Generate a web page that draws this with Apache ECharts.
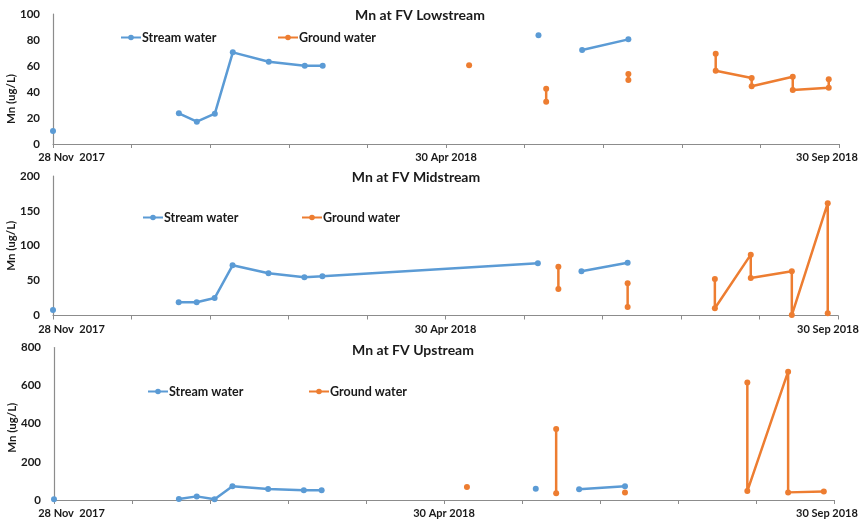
<!DOCTYPE html>
<html><head><meta charset="utf-8">
<script src="https://cdn.jsdelivr.net/npm/echarts@6/dist/echarts.min.js"></script>
<style>html,body{margin:0;padding:0;background:#fff}#c{width:860px;height:524px}</style>
</head><body><div id="c"></div>
<script>
// ---- data ----
const startDate = '2017-11-28';
const xTickDays = [0, 153, 306];
const xTickLabels = ['28 Nov  2017', '30 Apr 2018', '30 Sep 2018'];
const panelTitles = ['Mn at FV Lowstream', 'Mn at FV Midstream', 'Mn at FV Upstream'];
const yMaxes = [100, 200, 800];
const yIntervals = [20, 50, 200];
const seriesNames = ['Stream water', 'Ground water'];
const yName = 'Mn (ug/L)';

// null date = gap in the line
const lowStreamDates = ['2017-11-28', null, '2018-01-16', '2018-01-23', '2018-01-30', '2018-02-06', '2018-02-20', '2018-03-06', '2018-03-13', null, '2018-06-05', null, '2018-06-22', '2018-07-10'];
const lowStreamValues = [10, null, 23.6, 17.2, 23.3, 70.5, 63.3, 60.2, 60.2, null, 83.6, null, 72.3, 80.5];
const lowGroundDates = ['2018-05-09', null, '2018-06-08', '2018-06-08', null, '2018-07-10', '2018-07-10', null, '2018-08-13', '2018-08-13', '2018-08-27', '2018-08-27', '2018-09-12', '2018-09-12', '2018-09-26', '2018-09-26'];
const lowGroundValues = [60.5, null, 42.5, 32.5, null, 53.8, 49.2, null, 69.5, 56.4, 50.8, 44.4, 51.8, 41.5, 43.3, 49.8];

const midStreamDates = ['2017-11-28', null, '2018-01-16', '2018-01-23', '2018-01-30', '2018-02-06', '2018-02-20', '2018-03-06', '2018-03-13', '2018-06-05', null, '2018-06-22', '2018-07-10'];
const midStreamValues = [8, null, 18.9, 18.9, 25, 72, 60.5, 54.8, 56.2, 74.8, null, 63.4, 75.7];
const midGroundDates = ['2018-06-13', '2018-06-13', null, '2018-07-10', '2018-07-10', null, '2018-08-13', '2018-08-13', '2018-08-27', '2018-08-27', '2018-09-12', '2018-09-12', '2018-09-26', '2018-09-26'];
const midGroundValues = [70, 38, null, 46.2, 12.2, null, 52.3, 10.3, 87.2, 53.8, 63.4, 0.7, 161, 3.2];

const upStreamDates = ['2017-11-28', null, '2018-01-16', '2018-01-23', '2018-01-30', '2018-02-06', '2018-02-20', '2018-03-06', '2018-03-13', null, '2018-06-05', null, '2018-06-22', '2018-07-10'];
const upStreamValues = [3.5, null, 5, 19, 3.5, 72, 58, 51, 51, null, 59, null, 56, 72];
const upGroundDates = ['2018-05-09', null, '2018-06-13', '2018-06-13', null, '2018-07-10', null, '2018-08-27', '2018-08-27', '2018-09-12', '2018-09-12', '2018-09-26'];
const upGroundValues = [68, null, 372, 35, null, 40, null, 617, 47, 673, 40, 44];

// ---- build ----
function toDay(s) {
  const a = s.split('-').map(Number), b = startDate.split('-').map(Number);
  return (Date.UTC(a[0], a[1] - 1, a[2]) - Date.UTC(b[0], b[1] - 1, b[2])) / 86400000;
}
function build(dates, vals) {
  return dates.map((d, i) => (d === null || vals[i] === null) ? ['-', '-'] : [toDay(d), vals[i]]);
}
const panels = [
  [build(lowStreamDates, lowStreamValues), build(lowGroundDates, lowGroundValues)],
  [build(midStreamDates, midStreamValues), build(midGroundDates, midGroundValues)],
  [build(upStreamDates, upStreamValues), build(upGroundDates, upGroundValues)]
];

const FONT = 'Lato';
const TXT = '#1a1a1a';
const COLORS = ['#5B9BD5', '#ED7D31'];
const grids = [
  {left: 53, right: 21, top: 14, bottom: 380, outerBoundsMode: 'none', containLabel: false},
  {left: 53, right: 22, top: 176, bottom: 208.5, outerBoundsMode: 'none', containLabel: false},
  {left: 54, right: 26, top: 347.5, bottom: 24, outerBoundsMode: 'none', containLabel: false}
];
const namePad = [[0, 40, 0, 0], [0, 0, 0, 0], [0, 8, 0, 0]];
const firstPad = [37, 37, 35];
const lastPad = [24, 20, 14];
const titlePos = [[420, 8.5], [416, 170.5], [413, 343]];
const legendPos = [[120, 277, 31], [142, 301, 211], [147, 308, 385]];

const option = {
  animation: false,
  color: COLORS,
  title: panelTitles.map((t, i) => ({
    text: t, left: titlePos[i][0], top: titlePos[i][1], textAlign: 'center', padding: 0,
    textStyle: {fontFamily: FONT, fontWeight: 'bold', fontSize: 14, color: TXT}
  })),
  legend: [],
  grid: grids,
  xAxis: grids.map((g, i) => ({
    type: 'value', gridIndex: i, min: 0, max: 306, interval: 30.6,
    splitLine: {show: false},
    axisLine: {lineStyle: {color: '#8c8c8c', width: 1.2}},
    axisTick: {show: true, length: 4, lineStyle: {color: '#8c8c8c'}},
    axisLabel: {
      margin: 8,
      formatter: v => {
        const k = xTickDays.findIndex(t => Math.abs(t - v) < 0.5);
        return k < 0 ? '' : '{l' + k + '|' + xTickLabels[k] + '}';
      },
      rich: {
        l0: {fontFamily: FONT, fontWeight: 'bold', fontSize: 11, color: TXT, padding: [0, 0, 0, firstPad[i]]},
        l1: {fontFamily: FONT, fontWeight: 'bold', fontSize: 11, color: TXT},
        l2: {fontFamily: FONT, fontWeight: 'bold', fontSize: 11, color: TXT, padding: [0, lastPad[i], 0, 0]}
      }
    }
  })),
  yAxis: grids.map((g, i) => ({
    type: 'value', gridIndex: i, min: 0, max: yMaxes[i], interval: yIntervals[i],
    name: yName, nameLocation: 'middle', nameGap: 36, nameMoveOverlap: false,
    nameTextStyle: {fontFamily: FONT, fontWeight: 'bold', fontSize: 11.5, color: TXT, padding: namePad[i]},
    splitLine: {show: false},
    axisLine: {show: true, lineStyle: {color: '#8c8c8c', width: 1.2}},
    axisTick: {show: false},
    axisLabel: {margin: 13, fontFamily: FONT, fontWeight: 'bold', fontSize: 11.5, color: TXT}
  })),
  series: []
};

panels.forEach((p, i) => {
  p.forEach((data, j) => {
    option.series.push({
      name: seriesNames[j], type: 'line', xAxisIndex: i, yAxisIndex: i,
      data: data, connectNulls: false, symbol: 'circle', symbolSize: 6, showSymbol: true,
      itemStyle: {color: COLORS[j]}, lineStyle: {color: COLORS[j], width: 2.5}, z: 2 + j
    });
  });
  seriesNames.forEach((n, j) => {
    option.legend.push({
      data: [n], left: legendPos[i][j], top: legendPos[i][2], padding: 0,
      itemWidth: 20, itemHeight: 7, itemGap: 0, selectedMode: false,
      textStyle: {fontFamily: FONT, fontWeight: 'bold', fontSize: 12.5, color: TXT, padding: [0, 0, 0, -4]}
    });
  });
});

const chart = echarts.init(document.getElementById('c'), null, {renderer: 'canvas'});
chart.setOption(option);
</script>
</body></html>
